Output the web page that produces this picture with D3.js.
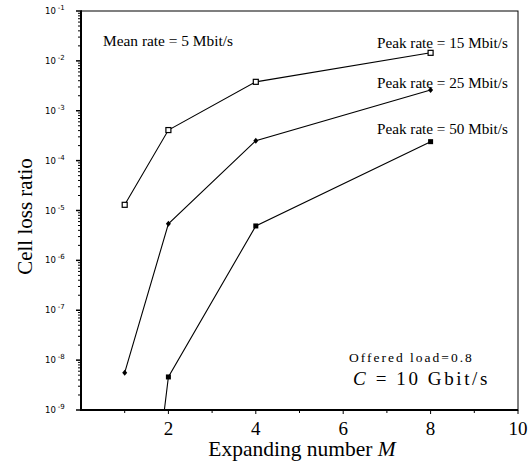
<!DOCTYPE html>
<html>
<head>
<meta charset="utf-8">
<script src="https://cdn.jsdelivr.net/npm/d3@7"></script>
<style>
  body { margin: 0; background: #fff; }
  text { fill: #000; }
</style>
</head>
<body>
<div id="chart"></div>
<script>
// Data
const expandingM = [1, 2, 4, 8];
const peak15 = [1.3e-5, 4.1e-4, 3.8e-3, 1.45e-2];
const peak25 = [5.6e-9, 5.4e-6, 2.5e-4, 2.6e-3];
const peak50M = [1, 2, 4, 8];
const peak50 = [3e-16, 4.6e-9, 4.9e-6, 2.4e-4];
const xTicks = [2, 4, 6, 8, 10];
const yDecades = [-9, -8, -7, -6, -5, -4, -3, -2, -1];

const W = 531, H = 467;
const margin = { top: 11, right: 13, bottom: 57, left: 81 },
  width = W - margin.left - margin.right,
  height = H - margin.top - margin.bottom;

let svg = d3.select("#chart")
  .append("svg")
  .attr("width", W)
  .attr("height", H)
  .append("g")
  .attr("transform", "translate(" + margin.left + "," + margin.top + ")");

let x = d3.scaleLinear().domain([0, 10]).range([0, width]);
let y = d3.scaleLog().domain([1e-9, 1e-1]).range([height, 0]);

svg.append("defs").append("clipPath").attr("id", "clip")
  .append("rect").attr("width", width).attr("height", height);

// Frame (top/right thin)
svg.append("rect")
  .attr("width", width).attr("height", height)
  .attr("fill", "none").attr("stroke", "#000").attr("stroke-width", 1);

// Y axis: major + minor log ticks
let minorY = [];
yDecades.forEach(e => {
  if (e < -1) for (let m = 2; m <= 9; m++) minorY.push(m * Math.pow(10, e));
});
svg.append("g").selectAll("line.minor").data(minorY).enter().append("line")
  .attr("x1", -3).attr("x2", 0)
  .attr("y1", d => y(d)).attr("y2", d => y(d))
  .attr("stroke", "#000").attr("stroke-width", 1);
svg.append("g").selectAll("line.major").data(yDecades).enter().append("line")
  .attr("x1", -5).attr("x2", 1)
  .attr("y1", d => y(Math.pow(10, d))).attr("y2", d => y(Math.pow(10, d)))
  .attr("stroke", "#000").attr("stroke-width", 1.5);

let yLab = svg.append("g").selectAll("text").data(yDecades).enter().append("text")
  .attr("x", -36).attr("y", d => y(Math.pow(10, d)) + 3)
  .style("font-family", "DejaVu Sans, sans-serif")
  .style("font-size", "8.5px");
yLab.append("tspan").text("10");
yLab.append("tspan").attr("dx", 2).attr("dy", -4)
  .style("font-size", "7px").text(d => String(d));

// X axis ticks
let minorX = [1, 3, 5, 7, 9];
svg.append("g").selectAll("line").data(minorX).enter().append("line")
  .attr("x1", d => x(d)).attr("x2", d => x(d))
  .attr("y1", height).attr("y2", height + 3)
  .attr("stroke", "#000");
svg.append("g").selectAll("line").data(xTicks).enter().append("line")
  .attr("x1", d => x(d)).attr("x2", d => x(d))
  .attr("y1", height).attr("y2", height + 4)
  .attr("stroke", "#000");
svg.append("g").selectAll("text").data(xTicks).enter().append("text")
  .attr("x", d => x(d)).attr("y", height + 25)
  .attr("text-anchor", "middle")
  .style("font-family", "Liberation Serif, serif")
  .style("font-size", "19px")
  .text(d => d);

// Thick left and bottom axis lines
svg.append("line").attr("x1", 0).attr("x2", 0).attr("y1", 0).attr("y2", height)
  .attr("stroke", "#000").attr("stroke-width", 2);
svg.append("line").attr("x1", -1).attr("x2", width).attr("y1", height).attr("y2", height)
  .attr("stroke", "#000").attr("stroke-width", 2);

// Lines
const line = d3.line().x(d => x(d[0])).y(d => y(d[1]));
const plot = svg.append("g").attr("clip-path", "url(#clip)");
const s15 = d3.zip(expandingM, peak15);
const s25 = d3.zip(expandingM, peak25);
const s50 = d3.zip(peak50M, peak50);
[s15, s25, s50].forEach(s => {
  plot.append("path").datum(s).attr("d", line)
    .attr("fill", "none").attr("stroke", "#000").attr("stroke-width", 1.1);
});

// Markers
svg.append("g").selectAll("rect").data(s15).enter().append("rect")
  .attr("x", d => x(d[0]) - 2.5).attr("y", d => y(d[1]) - 2.5)
  .attr("width", 5).attr("height", 5)
  .attr("fill", "#fff").attr("stroke", "#000").attr("stroke-width", 1.2);
svg.append("g").selectAll("path").data(s25).enter().append("path")
  .attr("transform", d => "translate(" + x(d[0]) + "," + y(d[1]) + ")")
  .attr("d", "M0,-3L2.5,0L0,3L-2.5,0Z")
  .attr("fill", "#000");
svg.append("g").selectAll("rect").data(s50.filter(d => d[1] >= 1e-9)).enter().append("rect")
  .attr("x", d => x(d[0]) - 2.5).attr("y", d => y(d[1]) - 2.5)
  .attr("width", 5).attr("height", 5)
  .attr("fill", "#000");

// Annotations
const serif = "Liberation Serif, serif";
function note(tx, ty, str, size) {
  return svg.append("text").attr("x", tx).attr("y", ty)
    .style("font-family", serif).style("font-size", size + "px").text(str);
}
note(22, 35, "Mean rate = 5 Mbit/s", 15.4);
note(296, 37, "Peak rate = 15 Mbit/s", 15.2);
note(296, 77, "Peak rate = 25 Mbit/s", 15.2);
note(296, 123, "Peak rate = 50 Mbit/s", 15.2);
note(268, 351, "Offered load=0.8", 13.5).style("letter-spacing", "2px");
let cl = svg.append("text").attr("x", 272).attr("y", 374)
  .style("font-family", serif).style("font-size", "19px").style("letter-spacing", "2.6px");
cl.append("tspan").style("font-style", "italic").text("C");
cl.append("tspan").text(" = 10 Gbit/s");

// Axis titles
let xt = svg.append("text")
  .attr("x", 302 - margin.left).attr("y", height + 46)
  .attr("text-anchor", "middle")
  .style("font-family", serif).style("font-size", "21.5px");
xt.append("tspan").text("Expanding number ");
xt.append("tspan").style("font-style", "italic").text("M");

svg.append("text")
  .attr("transform", "rotate(-90)")
  .attr("x", -205.5).attr("y", -49)
  .attr("text-anchor", "middle")
  .style("font-family", serif).style("font-size", "21px")
  .text("Cell loss ratio");
</script>
</body>
</html>
